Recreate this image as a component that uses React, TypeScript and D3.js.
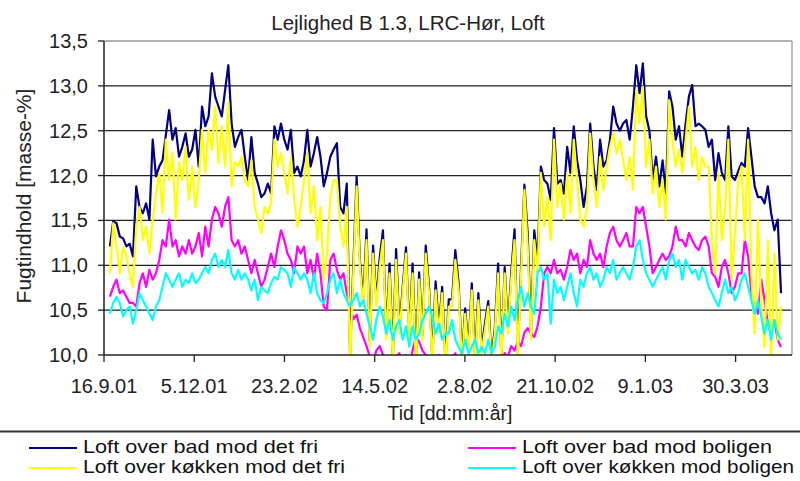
import React from "react";
import * as d3 from "d3";

// Moisture content in the attic of flat B 1.3 (LRC-Hør), four sensors.
const TITLE = "Lejlighed B 1.3, LRC-Hør, Loft";
const Y_TITLE = "Fugtindhold [masse-%]";
const X_TITLE = "Tid [dd:mm:år]";

const Y_TICKS = [10, 10.5, 11, 11.5, 12, 12.5, 13, 13.5];
const X_TICK_DATES = [
  "2001-09-16", "2001-12-05", "2002-02-23", "2002-05-14",
  "2002-08-02", "2002-10-21", "2003-01-09", "2003-03-30",
];
const X_START = "2001-09-16";
const X_END = "2003-05-19";

// Readings are spaced 70 hours apart, starting 21 Sep 2001.
const FIRST_SAMPLE = Date.UTC(2001, 8, 21, 6);
const STEP_HOURS = 70;

const badFri = [
  11.21, 11.49, 11.47, 11.32, 11.30, 11.21, 11.24, 11.10, 11.88, 11.65, 11.58, 11.69, 11.51, 12.40, 11.99, 12.10, 12.17, 12.45, 12.73, 12.40, 12.53, 12.21, 12.32, 12.47, 12.21, 12.29, 12.51, 12.10, 12.77, 12.55, 12.66, 13.14, 12.88, 12.77,
  12.66, 12.95, 13.23, 12.58, 12.32, 12.43, 12.51, 12.21, 11.95, 12.43, 12.03, 11.91, 11.76, 11.80, 11.91, 11.80, 12.55, 12.40, 12.58, 12.40, 12.29, 12.51, 12.03, 12.10, 11.99, 12.17, 12.51, 12.10, 12.25, 12.43, 12.21, 11.88, 12.03, 12.21, 12.29,
  12.36, 11.65, 11.58, 11.91, 10.00, 11.00, 11.99, 11.05, 10.60, 11.40, 10.15, 11.22, 10.60, 11.08, 11.39, 10.22, 11.02, 9.98, 11.18, 10.30, 10.75, 11.20, 10.22, 11.02, 9.95, 10.92, 10.22, 11.22, 10.76, 9.96, 10.82, 10.30, 10.76, 9.92, 10.62,
  10.62, 11.17, 10.80, 9.96, 10.52, 10.08, 10.80, 9.95, 10.69, 10.08, 10.35, 10.60, 9.96, 10.30, 11.02, 9.98, 10.98, 10.30, 10.92, 11.40, 10.02, 11.00, 11.90, 11.35, 10.25, 11.39, 11.05, 12.10, 11.95, 11.91, 11.73, 12.53, 11.91, 11.95, 11.80,
  12.32, 12.03, 12.55, 12.17, 11.95, 11.65, 11.88, 12.58, 12.10, 11.84, 12.40, 12.10, 12.17, 12.40, 12.77, 12.58, 12.50, 12.58, 12.62, 12.40, 12.77, 13.23, 12.92, 13.25, 12.66, 12.50, 11.95, 12.21, 11.88, 12.17, 11.80, 12.94, 12.77, 12.40, 12.55,
  12.21, 12.58, 12.88, 13.01, 12.55, 12.58, 12.55, 12.51, 12.32, 12.40, 11.95, 12.25, 12.03, 11.95, 12.55, 11.99, 11.95, 12.05, 12.14, 12.10, 12.53, 12.21, 11.88, 11.76, 11.76, 11.69, 11.88, 11.58, 11.39, 11.51, 10.69,
];

const badBolig = [
  10.65, 10.76, 10.84, 10.69, 10.72, 10.65, 10.58, 10.58, 10.54, 10.80, 10.91, 10.76, 10.95, 10.84, 10.91, 11.06, 11.28, 11.21, 11.51, 11.21, 11.28, 11.10, 11.21, 11.13, 11.28, 11.13, 11.21, 11.36, 11.10, 11.43, 11.21, 11.51, 11.65, 11.58,
  11.43, 11.65, 11.76, 11.28, 11.21, 11.28, 11.13, 11.21, 11.06, 10.91, 11.06, 10.91, 10.76, 10.84, 10.98, 11.13, 10.98, 11.21, 11.39, 11.28, 11.13, 11.06, 10.91, 11.21, 11.13, 11.21, 10.91, 11.06, 10.84, 11.13, 10.91, 10.54, 10.50, 11.06, 11.13,
  10.95, 10.84, 10.91, 10.69, 10.54, 10.40, 10.45, 10.30, 10.20, 10.10, 9.98, 9.92, 10.05, 10.10, 10.00, 9.90, 9.95, 9.85, 9.98, 10.02, 9.88, 10.00, 9.85, 10.05, 10.20, 10.15, 10.05, 10.00, 9.95, 9.85, 9.95, 10.00, 9.88, 9.95, 9.98,
  9.95, 10.02, 9.90, 9.85, 9.92, 9.85, 9.90, 9.95, 9.85, 9.90, 9.85, 9.92, 9.85, 9.90, 9.98, 9.92, 10.02, 9.98, 10.10, 10.05, 10.15, 10.10, 10.25, 10.30, 10.24, 10.20, 10.32, 10.54, 10.91, 10.98, 10.91, 11.06, 10.91, 10.95, 10.84,
  10.98, 11.17, 11.06, 11.13, 10.91, 11.06, 10.98, 11.28, 11.13, 11.06, 11.13, 10.98, 11.21, 11.36, 11.43, 11.28, 11.21, 11.28, 11.36, 11.21, 11.21, 11.65, 11.58, 11.65, 11.43, 11.21, 10.91, 10.98, 11.06, 11.13, 11.06, 11.10, 11.21, 11.43, 11.28,
  11.28, 11.21, 11.36, 11.28, 11.21, 11.17, 11.28, 11.32, 11.21, 10.91, 10.87, 10.76, 10.98, 11.06, 10.91, 10.69, 10.76, 10.91, 10.91, 11.28, 11.10, 10.69, 10.54, 10.46, 10.84, 10.61, 10.35, 10.24, 10.39, 10.17, 10.09,
];

const koekkenFri = [
  10.91, 11.47, 11.21, 10.91, 11.20, 11.10, 10.91, 10.76, 11.43, 11.65, 11.28, 11.43, 11.13, 11.51, 11.80, 12.03, 11.58, 12.40, 11.95, 12.25, 11.51, 12.15, 11.95, 12.32, 11.73, 12.10, 11.65, 11.95, 12.51, 12.03, 12.51, 12.29, 12.77, 12.14,
  12.55, 12.10, 12.81, 11.88, 12.15, 12.10, 12.21, 11.95, 11.88, 12.17, 11.65, 11.51, 11.36, 11.65, 11.58, 11.70, 12.40, 12.10, 12.25, 12.03, 11.80, 12.21, 11.73, 11.43, 11.65, 11.95, 12.25, 11.58, 11.88, 11.28, 11.65, 10.84, 11.13, 11.76, 11.95,
  11.95, 11.43, 11.21, 11.65, 9.90, 10.91, 11.88, 10.98, 10.54, 11.28, 10.09, 11.13, 10.54, 10.98, 11.28, 10.17, 10.91, 9.92, 11.06, 10.24, 10.69, 11.13, 10.17, 10.91, 9.88, 10.84, 10.17, 11.13, 10.69, 9.90, 10.72, 10.24, 10.69, 9.85, 10.54,
  10.54, 11.06, 10.72, 9.90, 10.46, 10.02, 10.72, 9.88, 10.61, 10.02, 10.28, 10.54, 9.90, 10.24, 10.91, 9.92, 10.91, 10.24, 10.84, 11.28, 9.95, 10.91, 11.84, 11.21, 10.17, 11.28, 10.91, 12.03, 11.43, 11.76, 11.28, 12.40, 11.65, 11.91, 11.51,
  12.03, 11.58, 12.40, 11.95, 11.51, 11.43, 11.65, 12.47, 11.95, 11.65, 12.21, 11.84, 12.10, 12.32, 12.47, 12.25, 12.40, 12.17, 11.95, 12.21, 11.84, 12.95, 12.58, 12.99, 12.10, 12.40, 11.80, 12.10, 11.65, 11.95, 11.51, 12.84, 12.40, 12.10, 12.29,
  12.03, 12.40, 12.77, 12.10, 12.32, 11.95, 12.21, 12.10, 12.10, 11.28, 10.91, 12.03, 11.28, 11.65, 12.40, 10.84, 11.36, 11.95, 12.10, 11.28, 12.40, 10.91, 10.24, 11.51, 10.54, 10.09, 11.28, 9.92, 11.13, 10.17, 10.54,
];

const koekkenBolig = [
  10.46, 10.58, 10.65, 10.58, 10.43, 10.50, 10.54, 10.35, 10.50, 10.69, 10.61, 10.54, 10.46, 10.39, 10.54, 10.61, 10.76, 10.91, 10.84, 10.76, 10.84, 10.91, 10.76, 10.84, 10.80, 10.91, 10.80, 10.84, 10.91, 10.98, 10.91, 11.06, 11.13, 10.98,
  11.06, 10.98, 11.17, 10.91, 10.84, 10.95, 10.84, 10.91, 10.84, 10.72, 10.84, 10.61, 10.76, 10.72, 10.69, 10.80, 10.87, 10.84, 10.98, 10.95, 10.91, 10.76, 10.98, 10.91, 10.84, 10.91, 10.84, 10.69, 10.91, 10.69, 10.61, 10.58, 10.69, 10.84, 10.91,
  10.69, 10.84, 10.69, 10.61, 10.54, 10.61, 10.69, 10.54, 10.61, 10.46, 10.32, 10.17, 10.39, 10.54, 10.43, 10.24, 10.39, 10.17, 10.32, 10.39, 10.17, 10.32, 10.09, 10.32, 10.17, 10.24, 10.39, 10.46, 10.54, 10.43, 10.24, 10.35, 10.17, 10.24, 10.24,
  10.39, 10.17, 10.09, 10.02, 10.17, 10.02, 10.09, 10.17, 10.02, 10.09, 10.02, 10.17, 10.02, 10.09, 10.32, 10.24, 10.46, 10.32, 10.54, 10.39, 10.61, 10.76, 10.54, 10.69, 10.54, 10.46, 10.91, 10.98, 10.84, 10.91, 10.35, 10.84, 10.69, 10.76, 10.61,
  10.76, 10.91, 10.69, 10.54, 10.84, 10.76, 10.91, 10.98, 10.84, 10.91, 10.76, 10.84, 10.98, 10.91, 11.06, 10.84, 10.91, 10.98, 10.91, 10.84, 10.98, 11.21, 11.28, 11.06, 10.91, 10.84, 10.76, 10.84, 10.91, 10.98, 10.84, 11.06, 11.13, 10.98, 11.06,
  10.84, 11.06, 10.98, 10.91, 10.95, 10.84, 10.98, 10.91, 10.76, 10.69, 10.61, 10.54, 10.69, 10.84, 10.69, 10.76, 10.61, 10.69, 10.84, 10.91, 10.76, 10.61, 10.46, 10.61, 10.43, 10.24, 10.39, 10.17, 10.39, 10.24, 10.17,
];

// Drawing order follows the series order: navy, magenta, yellow, cyan on top.
const SERIES = [
  { name: "Loft over bad mod det fri", values: badFri, color: "#000080" },
  { name: "Loft over bad mod boligen", values: badBolig, color: "#FF00FF" },
  { name: "Loft over køkken mod det fri", values: koekkenFri, color: "#FFFF00" },
  { name: "Loft over køkken mod boligen", values: koekkenBolig, color: "#00FFFF" },
];

const W = 800;
const H = 481;
const PLOT = { left: 104, right: 792, top: 41, bottom: 355 };
const FONT = "'Liberation Sans', Arial, Helvetica, sans-serif";

// legend: two columns, two rows, filled row by row
const LEGEND_COLS = [29, 468];
const LEGEND_ROWS = [448, 468];
const LEGEND_TEXT_WIDTH = [235, 250, 262, 272];

const utc = (s: string) => new Date(s + "T00:00:00Z");
const fmtDate = (d: Date) =>
  `${d.getUTCDate()}.${d.getUTCMonth() + 1}.${String(d.getUTCFullYear()).slice(2)}`;
const fmtY = (v: number) => d3.format(".1f")(v).replace(".", ",");

export default function App() {
  const x = d3.scaleUtc().domain([utc(X_START), utc(X_END)]).range([PLOT.left, PLOT.right]);
  const y = d3.scaleLinear().domain([10, 13.5]).range([PLOT.bottom, PLOT.top]);

  const sampleDate = (i: number) => new Date(FIRST_SAMPLE + i * STEP_HOURS * 3600 * 1000);
  const line = d3
    .line<number>()
    .x((_, i) => x(sampleDate(i)))
    .y((v) => y(v));

  return (
    <svg
      width={W}
      height={H}
      viewBox={`0 0 ${W} ${H}`}
      style={{ position: "absolute", left: 0, top: 0, background: "#fff" }}
      fontFamily={FONT}
    >
      <defs>
        <clipPath id="plot-clip">
          <rect x={PLOT.left} y={PLOT.top} width={PLOT.right - PLOT.left} height={PLOT.bottom - PLOT.top} />
        </clipPath>
      </defs>

      <rect x={0} y={0} width={W} height={H} fill="#fff" />

      <text x={408} y={30} textAnchor="middle" fontSize={20.5} fill="#222">
        {TITLE}
      </text>

      {/* horizontal grid lines and y ticks */}
      {Y_TICKS.map((t) => (
        <g key={t}>
          {t > 10 && t < 13.5 && (
            <line x1={PLOT.left} x2={PLOT.right} y1={y(t)} y2={y(t)} stroke="#222" strokeWidth={1.3} />
          )}
          <line x1={PLOT.left - 6} x2={PLOT.left} y1={y(t)} y2={y(t)} stroke="#222" strokeWidth={1.3} />
          <text x={88} y={y(t) + 7} textAnchor="end" fontSize={20} fill="#222">
            {fmtY(t)}
          </text>
        </g>
      ))}

      {/* frame */}
      <line x1={PLOT.left} x2={PLOT.right} y1={PLOT.top} y2={PLOT.top} stroke="#999" strokeWidth={1.3} />
      <line x1={PLOT.right} x2={PLOT.right} y1={PLOT.top} y2={PLOT.bottom} stroke="#999" strokeWidth={1.3} />

      {/* data */}
      <g clipPath="url(#plot-clip)">
        {SERIES.map((s) => (
          <path
            key={s.name}
            d={line(s.values) || ""}
            fill="none"
            stroke={s.color}
            strokeWidth={2.2}
            strokeLinejoin="round"
          />
        ))}
      </g>

      {/* axes */}
      <line x1={PLOT.left} x2={PLOT.left} y1={PLOT.top} y2={PLOT.bottom} stroke="#222" strokeWidth={1.5} />
      <line x1={PLOT.left} x2={PLOT.right} y1={PLOT.bottom} y2={PLOT.bottom} stroke="#222" strokeWidth={1.5} />

      {X_TICK_DATES.map((s) => {
        const d = utc(s);
        const px = x(d);
        return (
          <g key={s}>
            <line x1={px} x2={px} y1={PLOT.bottom} y2={PLOT.bottom + 7} stroke="#222" strokeWidth={1.3} />
            <text x={px} y={393} textAnchor="middle" fontSize={20} fill="#222">
              {fmtDate(d)}
            </text>
          </g>
        );
      })}

      <text
        transform={`translate(31, 196) rotate(-90)`}
        textAnchor="middle"
        fontSize={21}
        fill="#222"
      >
        {Y_TITLE}
      </text>

      <text x={450} y={420} textAnchor="middle" fontSize={19.5} fill="#222">
        {X_TITLE}
      </text>

      {/* legend */}
      <line x1={0} x2={W} y1={431.5} y2={431.5} stroke="#333" strokeWidth={2} />
      {SERIES.map((s, i) => {
        const col = i % 2;
        const row = Math.floor(i / 2);
        const lx = LEGEND_COLS[col];
        const ly = LEGEND_ROWS[row];
        return (
          <g key={s.name}>
            <line x1={lx} x2={lx + 48} y1={ly} y2={ly} stroke={s.color} strokeWidth={2} />
            <text
              x={lx + 54}
              y={ly + 5}
              fontSize={19}
              fill="#111"
              textLength={LEGEND_TEXT_WIDTH[i]}
              lengthAdjust="spacingAndGlyphs"
            >
              {s.name}
            </text>
          </g>
        );
      })}
    </svg>
  );
}
